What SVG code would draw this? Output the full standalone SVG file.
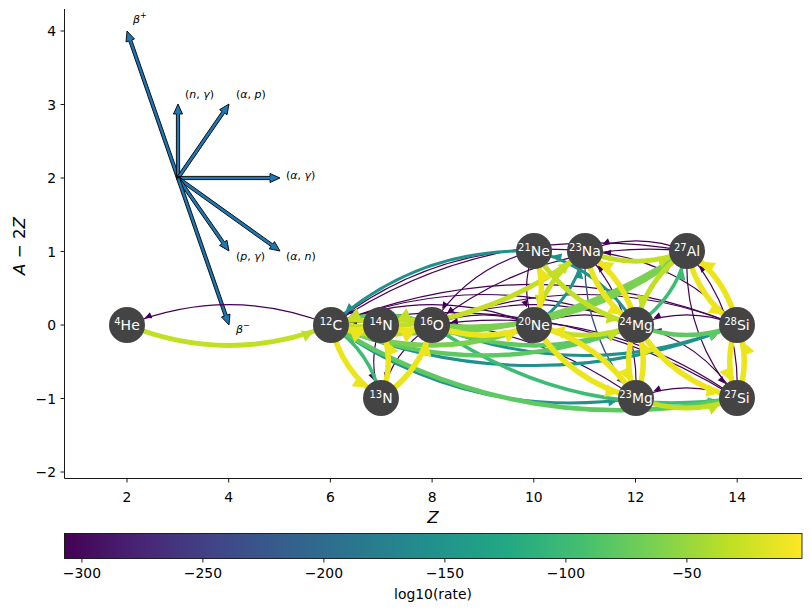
<svg xmlns="http://www.w3.org/2000/svg" width="811" height="611" viewBox="0 0 811 611">
<style>
text{font-family:"DejaVu Sans","Liberation Sans",sans-serif;fill:#000}
.tick{font-size:13.9px}
.ax{stroke:#000;stroke-width:0.9;fill:none}
.e{fill:none}
.p{stroke:#440154;stroke-width:1.2;marker-end:url(#mP)}
.b{stroke:#3b528b;stroke-width:1.4;marker-end:url(#mB)}
.t{stroke:#21918c;stroke-width:3;marker-end:url(#mT)}
.g1{stroke:#3dbc74;stroke-width:3.5;marker-end:url(#mG1)}
.g2{stroke:#5ec962;stroke-width:4.5;marker-end:url(#mG2)}
.g3{stroke:#7ad151;stroke-width:5;marker-end:url(#mG3)}
.yg{stroke:#c2df23;stroke-width:5;marker-end:url(#mYG)}
.y{stroke:#ede51b;stroke-width:5.5;marker-end:url(#mY)}
.node circle{fill:#444444}
.node text{fill:#fff;font-size:14px;text-anchor:middle}
.sup{font-size:10px}
.la{fill:#1f77b4;stroke:#000;stroke-width:0.9;stroke-linejoin:miter}
.lt{font-size:11px}
.it{font-style:italic}
</style>
<defs>
<linearGradient id="viridis" x1="0" y1="0" x2="1" y2="0">
<stop offset="0" stop-color="#440154"/><stop offset="0.1" stop-color="#482475"/><stop offset="0.2" stop-color="#414487"/><stop offset="0.3" stop-color="#355f8d"/><stop offset="0.4" stop-color="#2a788e"/><stop offset="0.5" stop-color="#21918c"/><stop offset="0.6" stop-color="#22a884"/><stop offset="0.7" stop-color="#44bf70"/><stop offset="0.8" stop-color="#7ad151"/><stop offset="0.9" stop-color="#bddf26"/><stop offset="1" stop-color="#fde725"/>
</linearGradient>
<marker id="mP" markerUnits="userSpaceOnUse" orient="auto" overflow="visible" refX="0" refY="0" markerWidth="1" markerHeight="1"><path d="M-19,0 L-26,-3.2 L-26,3.2Z" fill="#440154"/></marker>
<marker id="mB" markerUnits="userSpaceOnUse" orient="auto" overflow="visible" refX="0" refY="0" markerWidth="1" markerHeight="1"><path d="M-19,0 L-26,-3.4 L-26,3.4Z" fill="#3b528b"/></marker>
<marker id="mT" markerUnits="userSpaceOnUse" orient="auto" overflow="visible" refX="0" refY="0" markerWidth="1" markerHeight="1"><path d="M-19,0 L-28,-4.5 L-28,4.5Z" fill="#21918c"/></marker>
<marker id="mG1" markerUnits="userSpaceOnUse" orient="auto" overflow="visible" refX="0" refY="0" markerWidth="1" markerHeight="1"><path d="M-19,0 L-29,-5 L-29,5Z" fill="#3dbc74"/></marker>
<marker id="mG2" markerUnits="userSpaceOnUse" orient="auto" overflow="visible" refX="0" refY="0" markerWidth="1" markerHeight="1"><path d="M-19,0 L-30,-5.5 L-30,5.5Z" fill="#5ec962"/></marker>
<marker id="mG3" markerUnits="userSpaceOnUse" orient="auto" overflow="visible" refX="0" refY="0" markerWidth="1" markerHeight="1"><path d="M-19,0 L-30,-6 L-30,6Z" fill="#7ad151"/></marker>
<marker id="mYG" markerUnits="userSpaceOnUse" orient="auto" overflow="visible" refX="0" refY="0" markerWidth="1" markerHeight="1"><path d="M-19,0 L-30,-6 L-30,6Z" fill="#c2df23"/></marker>
<marker id="mY" markerUnits="userSpaceOnUse" orient="auto" overflow="visible" refX="0" refY="0" markerWidth="1" markerHeight="1"><path d="M-19,0 L-31,-6.5 L-31,6.5Z" fill="#ede51b"/></marker>
</defs>
<rect width="811" height="611" fill="#fff"/>

<!-- axes -->
<g id="axes">
<path class="ax" d="M64.5,9 V478.5 H802"/>
<path class="ax" d="M60.5,31 H64.5 M60.5,104.5 H64.5 M60.5,178 H64.5 M60.5,251.5 H64.5 M60.5,325 H64.5 M60.5,398.5 H64.5 M60.5,472 H64.5"/>
<path class="ax" d="M127,478.5 V482.5 M228.7,478.5 V482.5 M330.4,478.5 V482.5 M432.1,478.5 V482.5 M533.8,478.5 V482.5 M635.5,478.5 V482.5 M737.2,478.5 V482.5"/>
<g class="tick" text-anchor="end">
<text x="56" y="36">4</text><text x="56" y="109.5">3</text><text x="56" y="183">2</text><text x="56" y="256.5">1</text><text x="56" y="330">0</text><text x="56" y="403.5">−1</text><text x="56" y="477">−2</text>
</g>
<g class="tick" text-anchor="middle">
<text x="127" y="502">2</text><text x="228.7" y="502">4</text><text x="330.4" y="502">6</text><text x="432.1" y="502">8</text><text x="533.8" y="502">10</text><text x="635.5" y="502">12</text><text x="737.2" y="502">14</text>
</g>
<text x="433" y="523" text-anchor="middle" font-size="16.7" class="it">Z</text>
<text transform="translate(25,246) rotate(-90)" text-anchor="middle" font-size="16.7"><tspan class="it">A</tspan> − 2<tspan class="it">Z</tspan></text>
</g>

<!-- legend arrows -->
<g id="legend">
<polygon class="la" points="179.51,177.48 131.79,39.93 134.53,38.97 127,31 126.03,41.93 128.77,40.97 176.49,178.52"/>
<polygon class="la" points="179.6,178 179.6,114 182.5,114 178,104 173.5,114 176.4,114 176.4,178"/>
<polygon class="la" points="179.32,178.91 224.65,113.14 227.04,114.78 229,104 219.62,109.68 222.01,111.32 176.68,177.09"/>
<polygon class="la" points="178,179.6 270,179.6 270,182.5 280,178 270,173.5 270,176.4 178,176.4"/>
<polygon class="la" points="177.07,179.30 270.94,246.48 269.25,248.84 280,251 274.49,241.52 272.80,243.88 178.93,176.70"/>
<polygon class="la" points="176.69,178.92 221.96,243.72 219.58,245.38 229,251 226.96,240.22 224.58,241.88 179.31,177.08"/>
<polygon class="la" points="176.49,178.52 224.21,316.07 221.47,317.03 229,325 229.97,314.07 227.23,315.03 179.51,177.48"/>
<text class="lt" x="133" y="23"><tspan class="it">β</tspan><tspan font-size="8" dy="-5">+</tspan></text>
<text class="lt" x="185" y="98">(<tspan class="it">n</tspan>, <tspan class="it">γ</tspan>)</text>
<text class="lt" x="236" y="98">(<tspan class="it">α</tspan>, <tspan class="it">p</tspan>)</text>
<text class="lt" x="286" y="179">(<tspan class="it">α</tspan>, <tspan class="it">γ</tspan>)</text>
<text class="lt" x="286" y="260">(<tspan class="it">α</tspan>, <tspan class="it">n</tspan>)</text>
<text class="lt" x="236" y="260">(<tspan class="it">p</tspan>, <tspan class="it">γ</tspan>)</text>
<text class="lt" x="236" y="333"><tspan class="it">β</tspan><tspan font-size="8" dy="-5">−</tspan></text>
</g>

<!-- connectors -->
<g id="edges" class="edges">
<path class="e yg" d="M127,325 Q229,365.8 331,325"/>
<path class="e p" d="M331,325 Q229,284.2 127,325"/>
<path class="e p" d="M534,325 Q432.5,284.4 331,325"/>
<path class="e p" d="M585,251 Q443.2,237.2 331,325"/>
<path class="e p" d="M636,398 Q498.1,300.5 331,325"/>
<path class="e p" d="M636,325 Q483.5,264 331,325"/>
<path class="e p" d="M687,251 Q494.2,216.8 331,325"/>
<path class="e p" d="M737,398 Q548.6,280.3 331,325"/>
<path class="e p" d="M737,325 Q534,243.8 331,325"/>
<path class="e p" d="M534,325 Q483,304.6 432,325"/>
<path class="e p" d="M636,325 Q534,284.2 432,325"/>
<path class="e p" d="M687,251 Q544.7,237 432,325"/>
<path class="e p" d="M737,398 Q599.1,300.5 432,325"/>
<path class="e p" d="M737,325 Q584.5,264 432,325"/>
<path class="e p" d="M534,251 Q468.2,267.6 432,325"/>
<path class="e p" d="M534,251 Q519.2,288 534,325"/>
<path class="e p" d="M636,325 Q585,304.6 534,325"/>
<path class="e p" d="M687,251 Q636,230.6 585,251"/>
<path class="e p" d="M636,398 Q639.9,314.3 585,251"/>
<path class="e p" d="M737,325 Q686.5,304.8 636,325"/>
<path class="e p" d="M737,398 Q741.4,314.5 687,251"/>
<path class="e p" d="M687,251 Q682.6,334.5 737,398"/>
<path class="e p" d="M737,398 Q686.5,377.8 636,398"/>
<path class="e p" d="M737,398 Q701.1,341.3 636,325"/>
<path class="e p" d="M737,325 Q675.8,257.6 585,251"/>
<path class="e p" d="M381,325 Q366.4,361.5 381,398"/>
<path class="e p" d="M432,325 Q391.9,351.3 381,398"/>
<path class="e b" d="M585,251 Q581.1,334.7 636,398"/>
<path class="e t" d="M534,251 Q417.7,247.4 331,325"/>
<path class="e t" d="M331,325 Q468.9,422.5 636,398"/>
<path class="e t" d="M331,325 Q534,406.2 737,325"/>
<path class="e t" d="M432,325 Q584.5,386 737,325"/>
<path class="e t" d="M534,325 Q574.3,298.2 585,251"/>
<path class="e t" d="M636,325 Q599.8,267.6 534,251"/>
<path class="e g1" d="M381,398 Q370.6,351.5 331,325"/>
<path class="e g1" d="M432,325 Q569.9,422.5 737,398"/>
<path class="e g2" d="M331,325 Q519.4,442.7 737,398"/>
<path class="e g2" d="M432,325 Q381.5,304.8 331,325"/>
<path class="e g2" d="M331,325 Q483.5,386 636,325"/>
<path class="e g2" d="M432,325 Q534,365.8 636,325"/>
<path class="e g3" d="M331,325 Q432.5,365.6 534,325"/>
<path class="e g3" d="M331,325 Q523.8,359.2 687,251"/>
<path class="e g3" d="M432,325 Q574.3,339 687,251" stroke-width="6"/>
<path class="e g1" d="M636,325 Q676.3,298.2 687,251"/>
<path class="e g2" d="M636,325 Q686.5,345.2 737,325"/>
<path class="e yg" d="M331,325 Q472.8,338.8 585,251"/>
<path class="e yg" d="M381,325 Q356,315 331,325"/>
<path class="e yg" d="M432,325 Q406.5,314.8 381,325"/>
<path class="e yg" d="M331,325 Q381.5,345.2 432,325"/>
<path class="e yg" d="M585,251 Q544.7,277.8 534,325"/>
<path class="e yg" d="M534,325 Q585,345.4 636,325"/>
<path class="e yg" d="M534,251 Q570.2,308.4 636,325"/>
<path class="e yg" d="M585,251 Q636,271.4 687,251"/>
<path class="e yg" d="M687,251 Q646.7,277.8 636,325"/>
<path class="e yg" d="M636,398 Q686.5,418.2 737,398"/>
<path class="e y" d="M331,325 Q341.4,371.5 381,398"/>
<path class="e y" d="M381,398 Q395.6,361.5 381,325"/>
<path class="e y" d="M381,398 Q421.1,371.7 432,325"/>
<path class="e y" d="M331,325 Q356,335 381,325"/>
<path class="e y" d="M381,325 Q406.5,335.2 432,325"/>
<path class="e y" d="M432,325 Q483,345.4 534,325"/>
<path class="e y" d="M534,325 Q548.8,288 534,251"/>
<path class="e y" d="M534,325 Q570.4,381.9 636,398"/>
<path class="e y" d="M636,398 Q599.6,341.1 534,325"/>
<path class="e y" d="M585,251 Q595.7,298.2 636,325"/>
<path class="e y" d="M636,325 Q625.3,277.8 585,251"/>
<path class="e y" d="M687,251 Q697.2,298 737,325"/>
<path class="e y" d="M737,325 Q726.8,278 687,251"/>
<path class="e y" d="M636,325 Q621.4,361.5 636,398"/>
<path class="e y" d="M636,398 Q650.6,361.5 636,325"/>
<path class="e y" d="M737,325 Q722.4,361.5 737,398"/>
<path class="e y" d="M737,398 Q751.6,361.5 737,325"/>
<path class="e y" d="M636,325 Q671.9,381.7 737,398"/>
</g>

<!-- nodes -->
<g id="node-He4" class="node"><circle cx="127" cy="325" r="18"/><text x="127" y="330"><tspan class="sup" dy="-5">4</tspan><tspan dy="5">He</tspan></text></g>
<g id="node-C12" class="node"><circle cx="331" cy="325" r="18"/><text x="331" y="330"><tspan class="sup" dy="-5">12</tspan><tspan dy="5">C</tspan></text></g>
<g id="node-N14" class="node"><circle cx="381" cy="325" r="18"/><text x="381" y="330"><tspan class="sup" dy="-5">14</tspan><tspan dy="5">N</tspan></text></g>
<g id="node-O16" class="node"><circle cx="432" cy="325" r="18"/><text x="432" y="330"><tspan class="sup" dy="-5">16</tspan><tspan dy="5">O</tspan></text></g>
<g id="node-N13" class="node"><circle cx="381" cy="398" r="18"/><text x="381" y="403"><tspan class="sup" dy="-5">13</tspan><tspan dy="5">N</tspan></text></g>
<g id="node-Ne20" class="node"><circle cx="534" cy="325" r="18"/><text x="534" y="330"><tspan class="sup" dy="-5">20</tspan><tspan dy="5">Ne</tspan></text></g>
<g id="node-Ne21" class="node"><circle cx="534" cy="251" r="18"/><text x="534" y="256"><tspan class="sup" dy="-5">21</tspan><tspan dy="5">Ne</tspan></text></g>
<g id="node-Na23" class="node"><circle cx="585" cy="251" r="18"/><text x="585" y="256"><tspan class="sup" dy="-5">23</tspan><tspan dy="5">Na</tspan></text></g>
<g id="node-Mg24" class="node"><circle cx="636" cy="325" r="18"/><text x="636" y="330"><tspan class="sup" dy="-5">24</tspan><tspan dy="5">Mg</tspan></text></g>
<g id="node-Mg23" class="node"><circle cx="636" cy="398" r="18"/><text x="636" y="403"><tspan class="sup" dy="-5">23</tspan><tspan dy="5">Mg</tspan></text></g>
<g id="node-Al27" class="node"><circle cx="687" cy="251" r="18"/><text x="687" y="256"><tspan class="sup" dy="-5">27</tspan><tspan dy="5">Al</tspan></text></g>
<g id="node-Si28" class="node"><circle cx="737" cy="325" r="18"/><text x="737" y="330"><tspan class="sup" dy="-5">28</tspan><tspan dy="5">Si</tspan></text></g>
<g id="node-Si27" class="node"><circle cx="737" cy="398" r="18"/><text x="737" y="403"><tspan class="sup" dy="-5">27</tspan><tspan dy="5">Si</tspan></text></g>

<!-- colorbar -->
<g id="colorbar">
<rect x="64.5" y="533.5" width="737.5" height="25" fill="url(#viridis)" stroke="#000" stroke-width="0.8"/>
<path class="ax" d="M81.9,558.5 V562.5 M202.9,558.5 V562.5 M323.9,558.5 V562.5 M444.9,558.5 V562.5 M565.9,558.5 V562.5 M686.9,558.5 V562.5"/>
<g class="tick" text-anchor="middle">
<text x="81.9" y="578">−300</text><text x="202.9" y="578">−250</text><text x="323.9" y="578">−200</text><text x="444.9" y="578">−150</text><text x="565.9" y="578">−100</text><text x="686.9" y="578">−50</text>
</g>
<text x="433" y="599" text-anchor="middle" font-size="13.9">log10(rate)</text>
</g>
</svg>
